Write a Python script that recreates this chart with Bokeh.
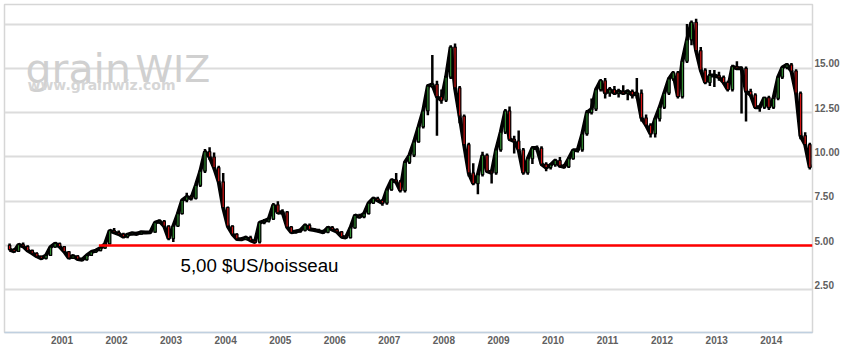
import pandas as pd
from bokeh.plotting import figure
from bokeh.models import (Range1d, LinearAxis, FixedTicker, Label, Grid,
                          DatetimeTickFormatter, PrintfTickFormatter, ColumnDataSource)
from bokeh.embed import file_html
from bokeh.resources import INLINE

# ---------------- data (monthly OHLC, $US/bushel) ----------------
START_MONTH = "2000-01"
OPEN = [5.02, 4.78, 4.68, 5.05, 4.96, 4.72, 4.57, 4.4, 4.28, 4.45, 4.92, 5.12,
        4.94, 4.66, 4.3, 4.42, 4.24, 4.2, 4.45, 4.64, 4.72, 4.86, 5.1, 5.85,
        5.75, 5.65, 5.5, 5.62, 5.7, 5.66, 5.76, 5.74, 5.76, 6.3, 6.38, 6.1,
        5.4, 6.1, 6.8, 7.55, 7.75, 7.66, 8.4, 9.2, 10.3, 10.0, 9.4, 8.6,
        7.15, 6.1, 5.65, 5.38, 5.36, 5.45, 5.3, 5.2, 6.3, 6.38, 6.5, 7.3,
        6.85, 6.9, 6.05, 5.75, 5.8, 5.86, 6.15, 5.92, 5.88, 5.82, 5.75, 6.02,
        5.9, 5.78, 5.5, 5.45, 6.0, 6.7, 6.62, 6.8, 7.4, 7.66, 7.55, 7.4,
        8.15, 8.7, 8.6, 8.1, 9.7, 10.1, 10.85, 11.7, 12.6, 14.0, 14.1, 13.4,
        13.2, 14.5, 16.2, 13.9, 12.3, 10.7, 9.1, 8.5, 9.0, 10.1, 9.2, 9.1,
        10.4, 11.4, 12.6, 11.0, 10.9, 10.4, 9.1, 9.9, 10.5, 10.5, 9.6, 9.4,
        9.55, 9.8, 9.5, 9.44, 9.9, 10.38, 10.4, 11.3, 12.5, 12.7, 13.8, 14.3,
        13.6, 13.8, 13.6, 13.7, 13.6, 13.7, 13.5, 13.6, 12.2, 11.8, 11.3, 12.15,
        12.8, 13.6, 14.4, 14.75, 13.4, 15.4, 16.6, 17.6, 16.0, 14.9, 14.2, 14.6,
        14.6, 14.5, 14.2, 13.8, 15.1, 15.0, 15.0, 13.7, 13.5, 12.8, 12.8, 13.35,
        12.8, 13.3, 14.5, 15.05, 15.2, 14.85, 13.6, 11.2, 10.7]
HIGH = [5.12, 4.85, 5.1, 5.18, 5.02, 4.78, 4.62, 4.44, 4.5, 4.96, 5.2, 5.18,
        4.98, 4.7, 4.46, 4.46, 4.3, 4.48, 4.68, 4.76, 4.9, 5.15, 5.9, 6.0,
        5.85, 5.72, 5.66, 5.76, 5.78, 5.82, 5.82, 5.84, 6.35, 6.48, 6.45, 6.15,
        6.15, 6.9, 7.6, 7.98, 7.85, 8.45, 9.3, 10.45, 10.55, 10.25, 9.5, 9.1,
        7.2, 6.15, 5.7, 5.45, 5.55, 5.55, 5.38, 6.35, 6.5, 6.6, 7.4, 7.5,
        7.05, 6.95, 6.1, 5.9, 5.95, 6.25, 6.25, 6.0, 5.95, 5.9, 6.1, 6.1,
        5.98, 5.82, 5.56, 6.05, 6.78, 6.8, 6.88, 7.45, 7.75, 7.75, 7.62, 8.2,
        8.78, 9.1, 8.7, 9.75, 10.2, 10.95, 11.8, 12.7, 14.1, 15.75, 14.3, 13.8,
        14.6, 16.3, 16.4, 14.0, 12.4, 10.8, 9.65, 9.1, 10.3, 10.2, 9.3, 10.5,
        11.5, 12.7, 12.85, 11.2, 11.5, 10.5, 10.0, 10.6, 10.65, 10.6, 9.7, 9.65,
        9.9, 10.0, 9.6, 10.0, 10.45, 10.5, 11.4, 12.65, 13.3, 13.9, 14.4, 14.45,
        13.95, 14.0, 13.85, 14.05, 13.8, 13.8, 14.45, 13.8, 12.4, 11.9, 12.2, 12.9,
        13.7, 14.5, 14.85, 14.85, 15.5, 17.5, 17.7, 17.8, 16.2, 15.0, 14.9, 14.9,
        14.8, 14.6, 14.3, 15.2, 15.4, 15.1, 15.1, 13.85, 13.6, 12.9, 13.4, 13.45,
        13.4, 14.6, 15.1, 15.3, 15.3, 14.95, 13.7, 11.4, 10.8]
LOW = [4.72, 4.62, 4.64, 4.92, 4.68, 4.52, 4.36, 4.24, 4.22, 4.42, 4.88, 4.9,
       4.62, 4.26, 4.25, 4.2, 4.15, 4.16, 4.42, 4.6, 4.68, 4.82, 5.06, 5.7,
       5.6, 5.44, 5.42, 5.58, 5.62, 5.62, 5.68, 5.68, 5.72, 6.24, 6.0, 5.3,
       5.2, 6.05, 6.75, 7.45, 7.55, 7.6, 8.3, 9.1, 9.85, 9.3, 8.5, 7.1,
       6.05, 5.6, 5.3, 5.28, 5.3, 5.25, 5.12, 5.12, 6.2, 6.3, 6.45, 6.8,
       6.75, 6.0, 5.7, 5.68, 5.72, 5.8, 5.85, 5.82, 5.75, 5.68, 5.7, 5.85,
       5.72, 5.45, 5.4, 5.4, 5.95, 6.55, 6.55, 6.75, 7.35, 7.48, 7.25, 7.3,
       8.1, 8.55, 8.0, 8.0, 9.6, 10.0, 10.8, 11.6, 12.35, 13.9, 11.2, 13.0,
       13.1, 14.4, 13.8, 11.9, 10.6, 8.9, 8.4, 7.9, 8.9, 9.1, 8.5, 9.0,
       10.3, 11.3, 10.9, 10.2, 10.3, 9.0, 9.0, 9.6, 10.3, 9.5, 9.2, 9.3,
       9.45, 9.4, 9.35, 9.38, 9.85, 10.25, 10.3, 11.2, 12.4, 12.6, 13.7, 13.3,
       13.4, 13.5, 13.35, 13.5, 13.2, 13.3, 13.3, 12.0, 11.7, 11.1, 11.1, 12.0,
       12.7, 13.5, 14.3, 13.3, 13.3, 15.3, 16.3, 15.9, 14.8, 14.1, 14.0, 13.95,
       14.3, 14.1, 13.7, 13.7, 14.9, 12.45, 12.0, 13.4, 12.7, 12.55, 12.7, 12.65,
       12.7, 13.2, 14.4, 14.95, 14.75, 13.5, 11.0, 10.6, 9.3]
CLOSE = [4.78, 4.68, 5.05, 4.96, 4.72, 4.57, 4.4, 4.28, 4.45, 4.92, 5.12, 4.94,
         4.66, 4.3, 4.42, 4.24, 4.2, 4.45, 4.64, 4.72, 4.86, 5.1, 5.85, 5.75,
         5.65, 5.5, 5.62, 5.7, 5.66, 5.76, 5.74, 5.76, 6.3, 6.38, 6.1, 5.4,
         6.1, 6.8, 7.55, 7.75, 7.66, 8.4, 9.2, 10.3, 10.0, 9.4, 8.6, 7.15,
         6.1, 5.65, 5.38, 5.36, 5.45, 5.3, 5.2, 6.3, 6.38, 6.5, 7.3, 6.85,
         6.9, 6.05, 5.75, 5.8, 5.86, 6.15, 5.92, 5.88, 5.82, 5.75, 6.02, 5.9,
         5.78, 5.5, 5.45, 6.0, 6.7, 6.62, 6.8, 7.4, 7.66, 7.55, 7.4, 8.15,
         8.7, 8.6, 8.1, 9.7, 10.1, 10.85, 11.7, 12.6, 14.0, 14.1, 13.4, 13.2,
         14.5, 16.2, 13.9, 12.3, 10.7, 9.1, 8.5, 9.0, 10.1, 9.2, 9.1, 10.4,
         11.4, 12.6, 11.0, 10.9, 10.4, 9.1, 9.9, 10.5, 10.5, 9.6, 9.4, 9.55,
         9.8, 9.5, 9.44, 9.9, 10.38, 10.4, 11.3, 12.5, 12.7, 13.8, 14.3, 13.6,
         13.8, 13.6, 13.7, 13.6, 13.7, 13.5, 13.6, 12.2, 11.8, 11.3, 12.15, 12.8,
         13.6, 14.4, 14.75, 13.4, 15.4, 16.6, 17.6, 16.0, 14.9, 14.2, 14.6, 14.6,
         14.5, 14.2, 13.8, 15.1, 15.0, 15.0, 13.7, 13.5, 12.8, 12.8, 13.35, 12.8,
         13.3, 14.5, 15.05, 15.2, 14.85, 13.6, 11.2, 10.7, 9.4]

Y_TICKS = [2.5, 5.0, 7.5, 10.0, 12.5, 15.0]
GRID_LEVELS = [2.5, 5.0, 7.5, 10.0, 12.5, 15.0, 17.5]
X_TICK_YEARS = list(range(2001, 2015))
REF_LEVEL = 5.00
REF_START = "2001-09-05"
REF_LABEL = "5,00 $US/boisseau"
WATERMARK_1 = "grain"
WATERMARK_2 = "WIZ"
WATERMARK_3 = "www.grainwiz.com"

# ---------------- layout ----------------
X_START = pd.Timestamp("1999-12-13")
X_END = pd.Timestamp("2014-10-04")
Y_START, Y_END = 0.1, 18.6
FRAME_L, FRAME_T, FRAME_W, FRAME_H = 4, 4, 808, 328


def ms(ts):
    return pd.Timestamp(ts).value / 1e6


def px_x(px):
    return ms(X_START) + (px - FRAME_L) / FRAME_W * (ms(X_END) - ms(X_START))


def px_y(py):
    return Y_END - (py - FRAME_T) * (Y_END - Y_START) / FRAME_H


months = pd.date_range(START_MONTH + "-01", periods=len(CLOSE), freq="MS")
mid = months + pd.Timedelta(days=15)
up = [c >= o for o, c in zip(OPEN, CLOSE)]
src = ColumnDataSource(dict(
    x=mid, open=OPEN, high=HIGH, low=LOW, close=CLOSE,
    top=[max(o, c) for o, c in zip(OPEN, CLOSE)],
    bottom=[min(o, c) for o, c in zip(OPEN, CLOSE)],
    color=["#2f8a2f" if u else "#d41414" for u in up],
))

p = figure(width=866, height=356, x_axis_type="datetime", y_axis_location=None,
           x_range=Range1d(X_START, X_END), y_range=Range1d(Y_START, Y_END),
           output_backend="svg", toolbar_location=None,
           min_border_left=FRAME_L, min_border_top=FRAME_T,
           min_border_right=866 - FRAME_L - FRAME_W, min_border_bottom=356 - FRAME_T - FRAME_H,
           background_fill_color="white", border_fill_color="white")
p.outline_line_color = "#d6d6d6"
p.outline_line_width = 1.5
p.xgrid.visible = False
p.ygrid.visible = False

grid = Grid(dimension=1, ticker=FixedTicker(ticks=GRID_LEVELS),
            grid_line_color="#dcdcdc", grid_line_width=2)
p.add_layout(grid)

# x axis
xa = p.xaxis[0]
xa.ticker = FixedTicker(ticks=[ms(f"{y}-01-01") for y in X_TICK_YEARS])
xa.formatter = DatetimeTickFormatter(years="%Y", months="%Y", days="%Y", hours="%Y",
                                     minutes="%Y", seconds="%Y", milliseconds="%Y",
                                     microseconds="%Y")
xa.axis_line_color = "#c0d0e0"
xa.axis_line_width = 1.5
xa.major_tick_line_color = None
xa.minor_tick_line_color = None
xa.major_tick_out = 0
xa.major_label_standoff = 3
xa.major_label_text_font = "Liberation Sans"
xa.major_label_text_font_style = "bold"
xa.major_label_text_font_size = "10px"
xa.major_label_text_color = "#606060"

# right y axis; labels sit a few pixels above their grid lines
d = 5 * (Y_END - Y_START) / FRAME_H
p.extra_y_ranges = {"lab": Range1d(Y_START - d, Y_END - d)}
ya = LinearAxis(y_range_name="lab", ticker=FixedTicker(ticks=Y_TICKS),
                formatter=PrintfTickFormatter(format="%.2f"))
ya.axis_line_color = None
ya.major_tick_line_color = None
ya.minor_tick_line_color = None
ya.major_tick_out = 0
ya.major_label_standoff = 2
ya.major_label_text_font = "Liberation Sans"
ya.major_label_text_font_style = "bold"
ya.major_label_text_font_size = "10px"
ya.major_label_text_color = "#606060"
p.add_layout(ya, "right")

# watermark
p.add_layout(Label(x=px_x(25), y=px_y(68), text=WATERMARK_1, text_font="DejaVu Sans",
                   text_font_size="41px", text_color="#d0d0d0", text_baseline="alphabetic"))
p.add_layout(Label(x=px_x(135), y=px_y(68), text=WATERMARK_2, text_font="DejaVu Sans",
                   text_font_size="38px", text_color="#d0d0d0", text_baseline="alphabetic"))
p.add_layout(Label(x=px_x(27), y=px_y(84), text=WATERMARK_3, text_font="DejaVu Sans",
                   text_font_style="bold", text_font_size="14px", text_color="#d6d6d6",
                   text_baseline="alphabetic"))

# candlesticks
p.line("x", "close", source=src, line_color="black", line_width=4)
p.segment(x0="x", y0="high", x1="x", y1="low", source=src, line_color="black", line_width=2.5)
p.vbar(x="x", width=16 * 86400000, top="top", bottom="bottom", source=src,
       fill_color="color", line_color="black", line_width=1.2)

# reference line and its label
p.segment(x0=[pd.Timestamp(REF_START)], y0=[REF_LEVEL], x1=[X_END], y1=[REF_LEVEL],
          line_color="#ff0000", line_width=2.5)
p.add_layout(Label(x=px_x(180), y=px_y(265), text=REF_LABEL, text_font="Liberation Sans",
                   text_font_size="18.7px", text_color="black", text_baseline="alphabetic"))

open("out.html", "w").write(file_html(p, INLINE))
